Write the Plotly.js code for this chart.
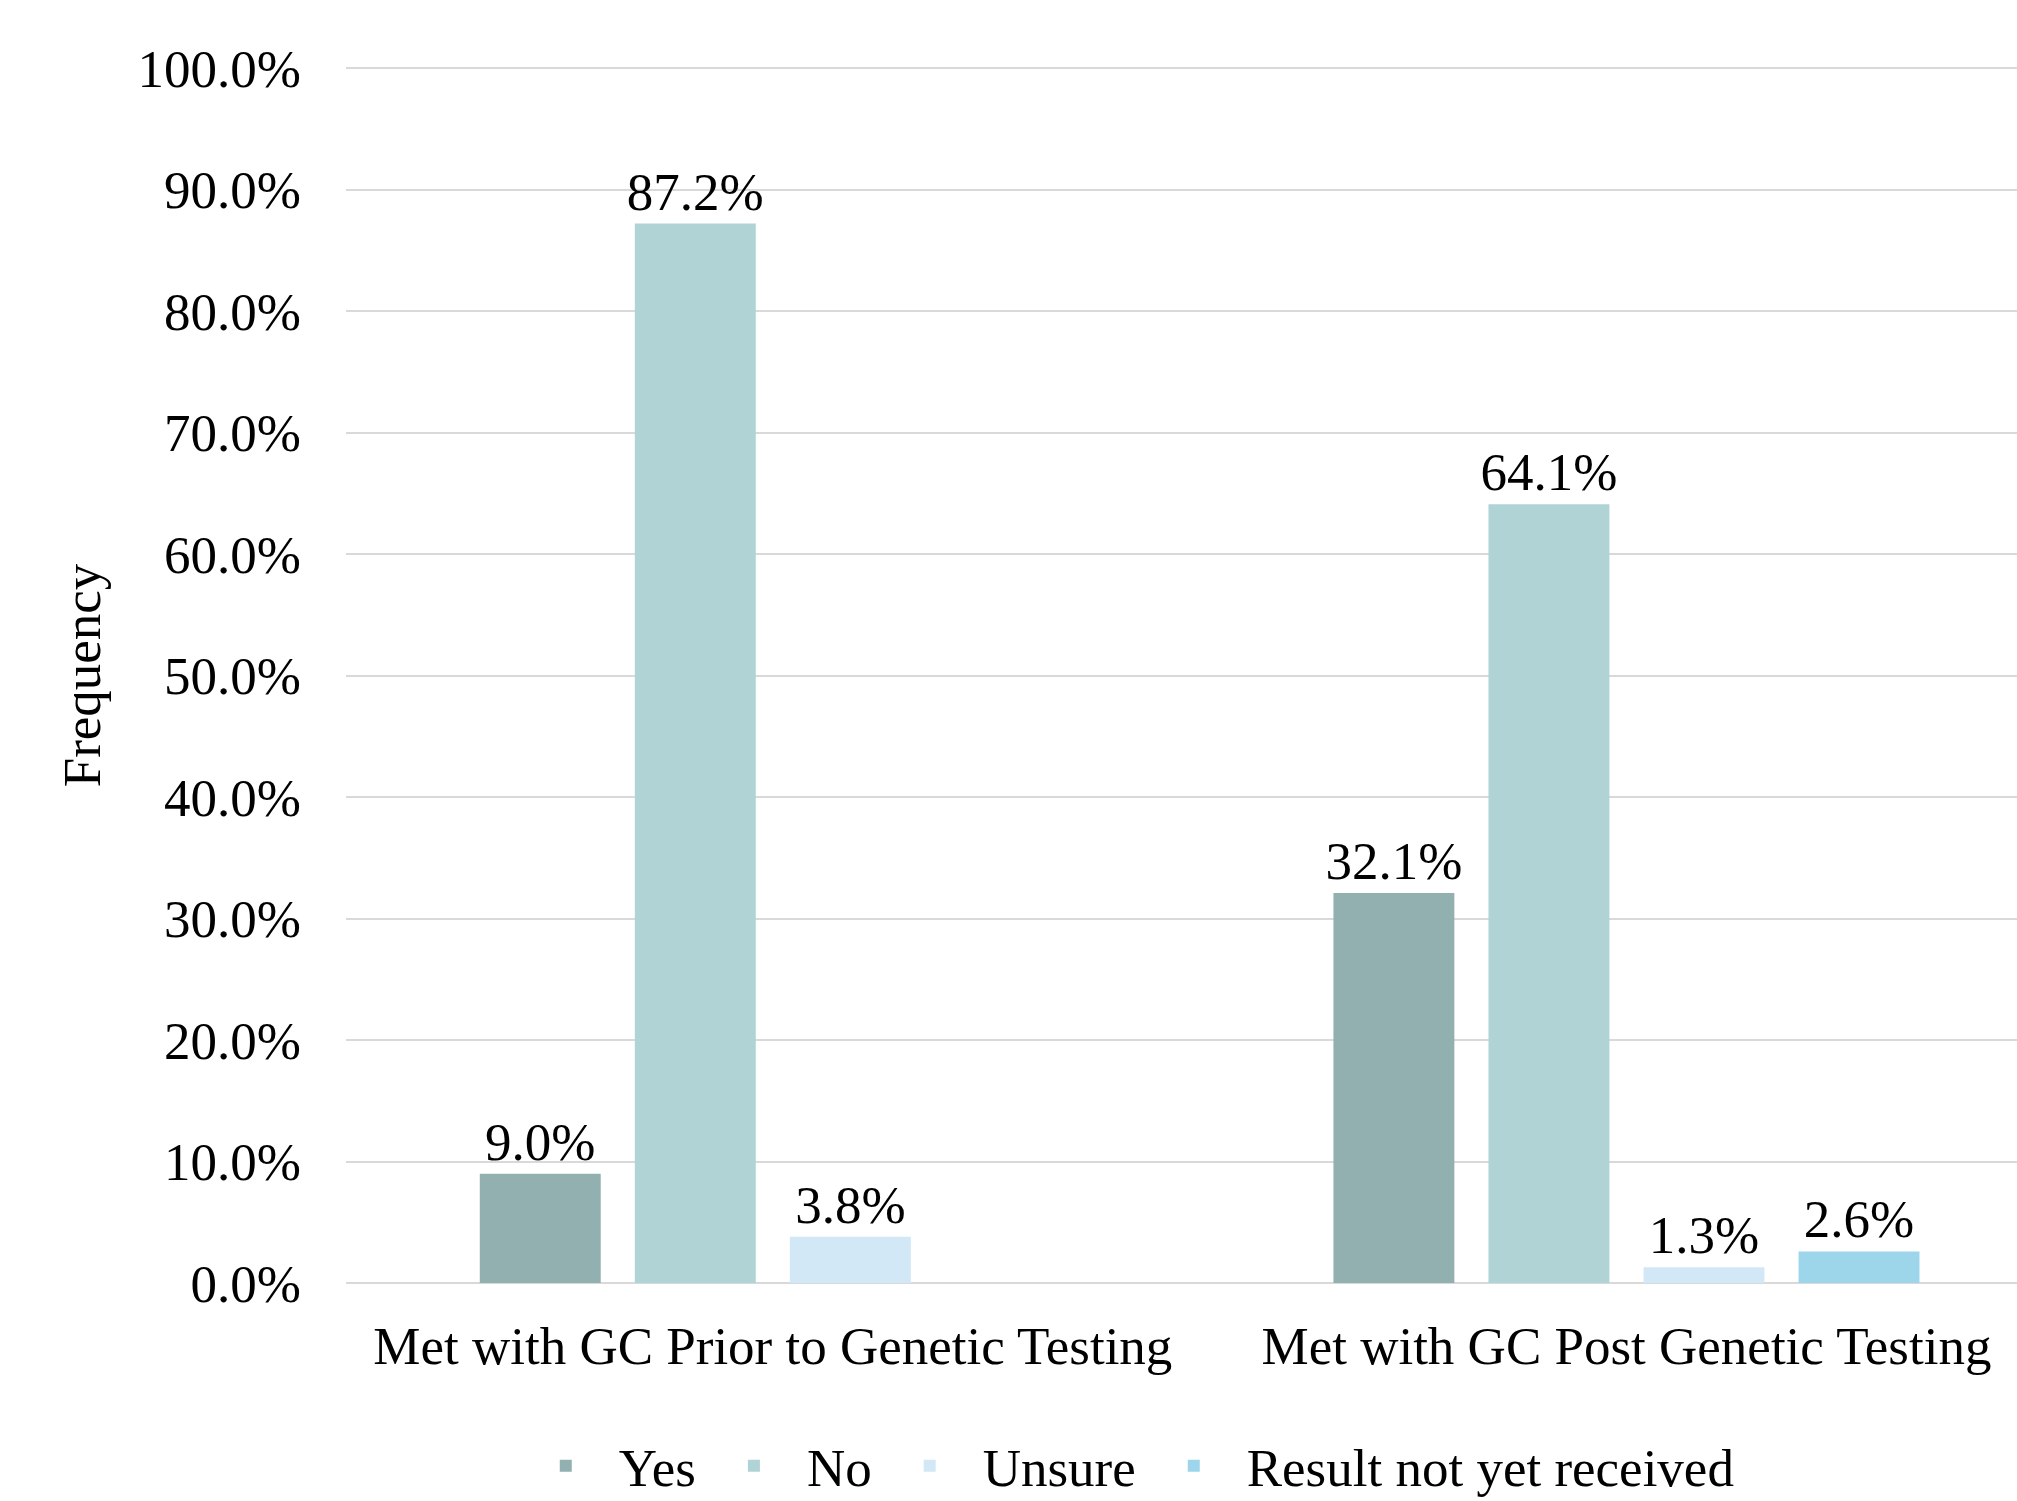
<!DOCTYPE html>
<html>
<head>
<meta charset="utf-8">
<script src="https://cdn.plot.ly/plotly-3.0.1.min.js"></script>
<style>html,body{margin:0;padding:0;background:#fff;}#chart{width:2017px;height:1501px;}</style>
</head>
<body>
<div id="chart"></div>
<script>
var categories = ["Met with GC Prior to Genetic Testing", "Met with GC Post Genetic Testing"];
var seriesNames = ["Yes", "No", "Unsure", "Result not yet received"];
var yesValues = [9.0, 32.1];
var noValues = [87.2, 64.1];
var unsureValues = [3.8, 1.3];
var resultValues = [null, 2.6];
var colors = ["#93B0B1", "#B0D3D5", "#D2E8F6", "#9DD6EA"];
var yTickVals = [0, 10, 20, 30, 40, 50, 60, 70, 80, 90, 100];

var FONT = "'Liberation Serif', 'Times New Roman', serif";
var allValues = [yesValues, noValues, unsureValues, resultValues];

var traces = allValues.map(function (vals, i) {
  return {
    type: "bar",
    name: seriesNames[i],
    x: categories,
    y: vals,
    marker: { color: colors[i] },
    texttemplate: "%{y:.1f}%",
    textposition: "outside",
    constraintext: "none",
    textfont: { family: FONT, size: 53, color: "#000" },
    cliponaxis: false,
    hoverinfo: "skip"
  };
});

var layout = {
  width: 2017,
  height: 1501,
  paper_bgcolor: "#fff",
  plot_bgcolor: "#fff",
  font: { family: FONT, size: 53, color: "#000" },
  margin: { l: 346, r: 0, t: 66, b: 216, pad: 0, autoexpand: false },
  barmode: "group",
  bargap: 0.2735,
  bargroupgap: 0.22,
  showlegend: true,
  legend: {
    orientation: "h",
    xref: "paper",
    x: 0.0998,
    xanchor: "left",
    yref: "container",
    y: 0.0235,
    yanchor: "middle",
    itemwidth: 96,
    font: { family: FONT, size: 53, color: "#000" },
    traceorder: "normal",
    itemclick: false
  },
  xaxis: {
    type: "category",
    range: [-0.5, 1.4575],
    showgrid: false,
    zeroline: false,
    showline: false,
    ticks: "",
    ticklabelstandoff: 25,
    tickfont: { family: FONT, size: 53, color: "#000" }
  },
  yaxis: {
    range: [-0.165, 100.165],
    tickvals: yTickVals,
    ticktext: yTickVals.map(function (v) { return v.toFixed(1) + "%"; }),
    showgrid: true,
    gridcolor: "#D9D9D9",
    gridwidth: 2,
    zeroline: true,
    zerolinecolor: "#D9D9D9",
    zerolinewidth: 2,
    showline: false,
    ticks: "",
    ticklabelstandoff: 44,
    tickfont: { family: FONT, size: 53, color: "#000" },
    title: { text: "Frequency", font: { family: FONT, size: 53, color: "#000" }, standoff: 20 },
    automargin: false
  }
};

Plotly.newPlot("chart", traces, layout, { displayModeBar: false, staticPlot: true });
</script>
</body>
</html>
